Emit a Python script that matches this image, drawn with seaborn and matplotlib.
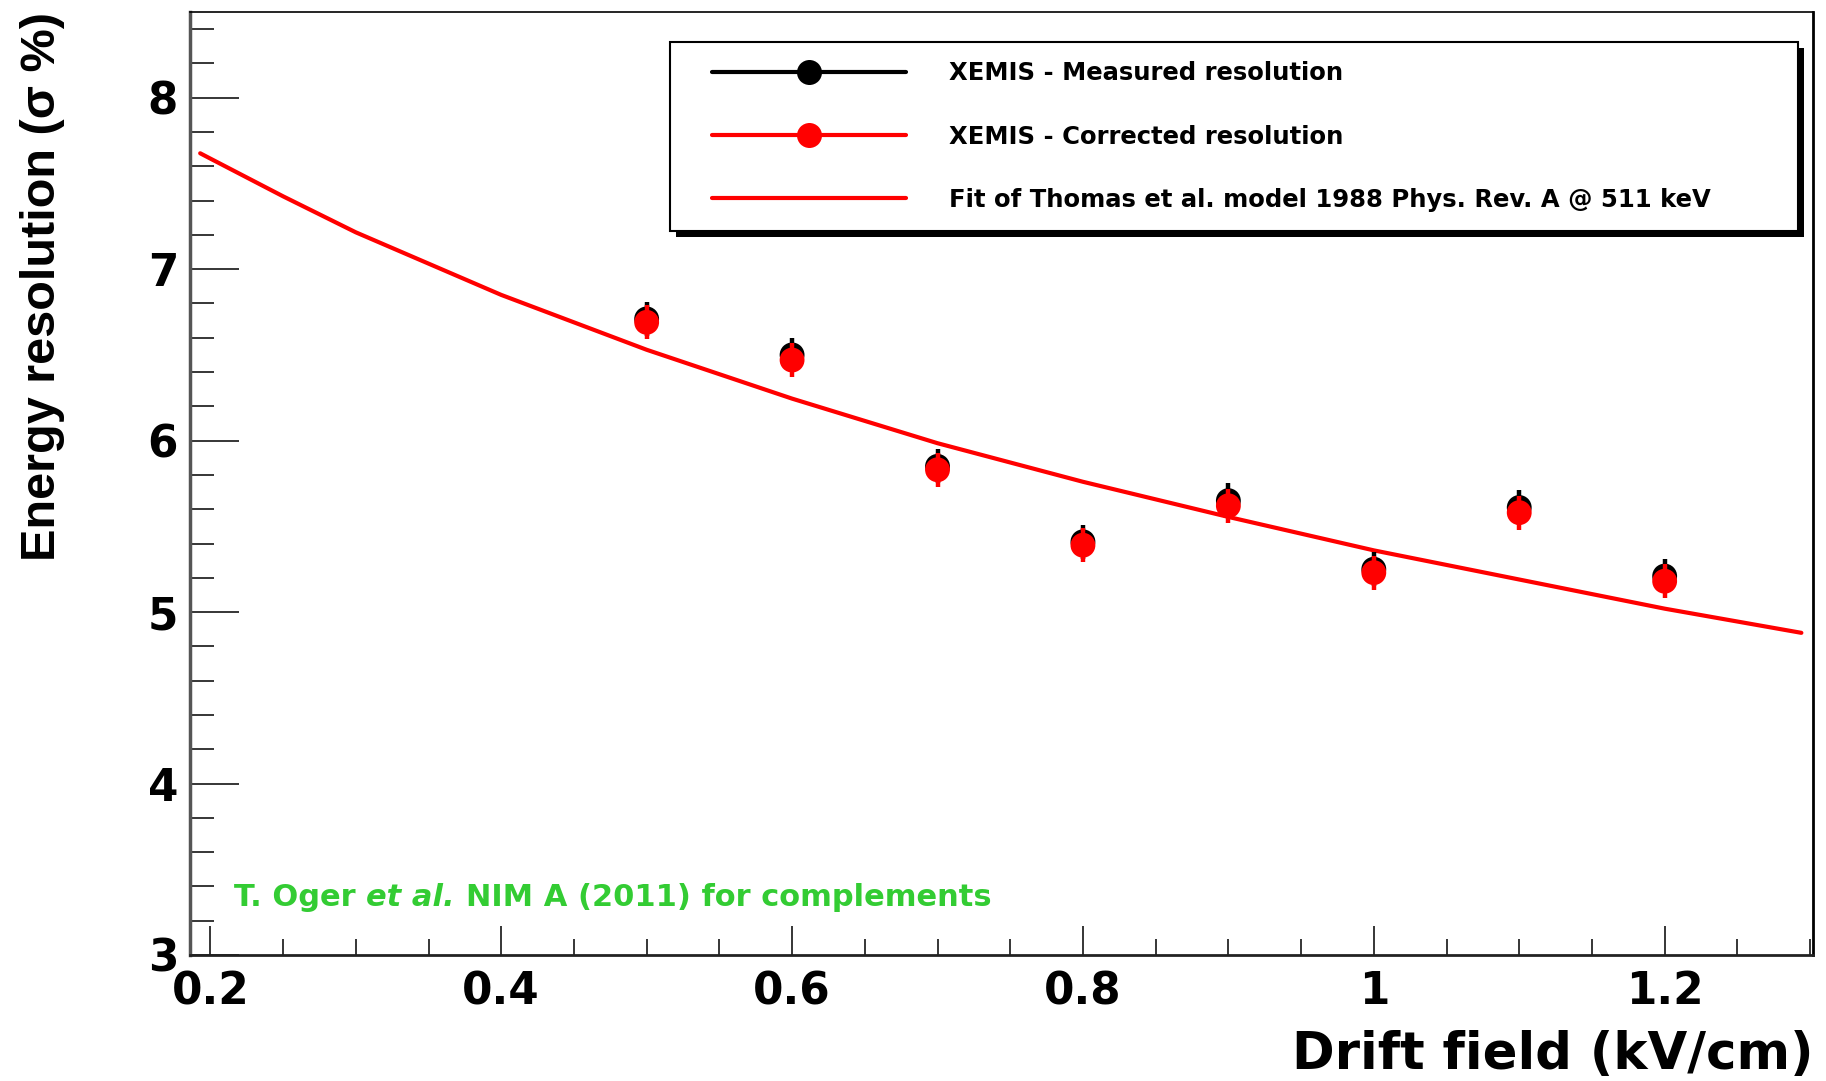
import matplotlib
matplotlib.use("Agg")
import numpy as np
import pandas as pd
import seaborn as sns
import matplotlib.pyplot as plt
from matplotlib.lines import Line2D
from matplotlib.patches import Rectangle
from matplotlib.ticker import FixedLocator, MultipleLocator
from matplotlib.font_manager import FontProperties, fontManager

# ---------------- data ----------------
field = [0.5, 0.6, 0.7, 0.8, 0.9, 1.0, 1.1, 1.2]
measured = [6.71, 6.50, 5.85, 5.41, 5.65, 5.25, 5.61, 5.21]
measured_err = [0.10, 0.10, 0.10, 0.10, 0.10, 0.10, 0.10, 0.10]
corrected = [6.69, 6.47, 5.83, 5.39, 5.62, 5.23, 5.58, 5.18]
corrected_err = [0.10, 0.10, 0.10, 0.10, 0.10, 0.10, 0.10, 0.10]

fit_field = [0.193, 0.2, 0.25, 0.3, 0.4, 0.5, 0.6, 0.7, 0.8, 0.9, 1.0, 1.1, 1.2, 1.294]
fit_res = [7.676, 7.645, 7.425, 7.215, 6.85, 6.53, 6.245, 5.985, 5.76, 5.555, 5.36, 5.19, 5.02, 4.879]

xtick_values = [0.2, 0.4, 0.6, 0.8, 1.0, 1.2]
xtick_labels = ["0.2", "0.4", "0.6", "0.8", "1", "1.2"]
ytick_values = [3, 4, 5, 6, 7, 8]
ytick_labels = ["3", "4", "5", "6", "7", "8"]

legend_labels = ["XEMIS - Measured resolution",
                 "XEMIS - Corrected resolution",
                 "Fit of Thomas et al. model 1988 Phys. Rev. A @ 511 keV"]
x_title = "Drift field (kV/cm)"
y_title = "Energy resolution (\u03c3 %)"
note_parts = ["T. Oger", "et al.", "NIM A (2011) for complements"]

# ---------------- style ----------------
sns.set_theme(style="white")
plt.rcParams['font.family'] = ['DejaVu Sans']
for k in ['text.color', 'axes.labelcolor', 'xtick.color', 'ytick.color', 'axes.edgecolor']:
    plt.rcParams[k] = 'black'

W, H = 1826, 1081
fig = plt.figure(figsize=(W / 100, H / 100), dpi=100)
fig.patch.set_facecolor('white')
ax_l, ax_r, ax_t, ax_b = 190, 1813, 12, 955
ax = fig.add_axes([ax_l / W, 1 - ax_b / H, (ax_r - ax_l) / W, (ax_b - ax_t) / H])
ax.set_facecolor('white')

# fit curve
df_fit = pd.DataFrame({"field": fit_field, "res": fit_res})
sns.lineplot(data=df_fit, x="field", y="res", color="red", linewidth=3,
             ax=ax, zorder=2, legend=False)

# measured
ax.errorbar(field, measured, yerr=measured_err, fmt='none', ecolor='black',
            elinewidth=3.2, capsize=0, zorder=3)
sns.scatterplot(x=field, y=measured, color='black', s=320, marker='o',
                edgecolor='none', linewidth=0, ax=ax, zorder=4, legend=False)
# corrected
ax.errorbar(field, corrected, yerr=corrected_err, fmt='none', ecolor='red',
            elinewidth=3.2, capsize=0, zorder=5)
sns.scatterplot(x=field, y=corrected, color='red', s=320, marker='o',
                edgecolor='none', linewidth=0, ax=ax, zorder=6, legend=False)

ax.set_xlim(0.186, 1.302)
ax.set_ylim(3, 8.5)
ax.set_xlabel("")
ax.set_ylabel("")

ax.xaxis.set_major_locator(FixedLocator(xtick_values))
ax.set_xticklabels(xtick_labels)
ax.xaxis.set_minor_locator(MultipleLocator(0.05))
ax.yaxis.set_major_locator(FixedLocator(ytick_values))
ax.set_yticklabels(ytick_labels)
ax.yaxis.set_minor_locator(MultipleLocator(0.2))

ax.tick_params(axis='x', which='major', direction='in', length=21, width=1.1,
               pad=11, labelsize=31.5, bottom=True, top=False)
ax.tick_params(axis='x', which='minor', direction='in', length=11.5, width=1.1,
               bottom=True, top=False)
ax.tick_params(axis='y', which='major', direction='in', length=35, width=1.1,
               pad=8.5, labelsize=31.5, left=True, right=False)
ax.tick_params(axis='y', which='minor', direction='in', length=17.5, width=1.1,
               left=True, right=False)
for lab in ax.get_xticklabels() + ax.get_yticklabels():
    lab.set_fontweight('bold')

ax.spines['left'].set(color='#555555', linewidth=2.5)
ax.spines['bottom'].set(color='#222222', linewidth=2)
ax.spines['top'].set(color='black', linewidth=1.2)
ax.spines['right'].set(color='black', linewidth=2)

# ---------------- legend ----------------
def axx(px):
    return (px - ax_l) / (ax_r - ax_l)

def axy(py):
    return (ax_b - py) / (ax_b - ax_t)

box_l, box_r, box_t, box_b = 670, 1798, 42, 231
shadow = Rectangle((axx(box_l) + 6 / (ax_r - ax_l), axy(box_b) - 6 / (ax_b - ax_t)),
                   axx(box_r) - axx(box_l), axy(box_t) - axy(box_b),
                   transform=ax.transAxes, facecolor='black', edgecolor='black',
                   lw=0, zorder=7, clip_on=False)
frame = Rectangle((axx(box_l), axy(box_b)), axx(box_r) - axx(box_l), axy(box_t) - axy(box_b),
                  transform=ax.transAxes, facecolor='white', edgecolor='black',
                  lw=1.5, zorder=7.1, clip_on=False)
ax.add_patch(shadow)
ax.add_patch(frame)

handles = [Line2D([], [], color='black', lw=3, marker='o', markersize=18, markeredgewidth=0),
           Line2D([], [], color='red', lw=3, marker='o', markersize=18, markeredgewidth=0),
           Line2D([], [], color='red', lw=3)]
leg = ax.legend(handles, legend_labels, loc='center left',
                bbox_to_anchor=(axx(712), axy(136.5)), borderpad=0, borderaxespad=0,
                frameon=False, prop=FontProperties(family='DejaVu Sans', weight='bold', size=17.5),
                handlelength=8.0, handletextpad=1.75, labelspacing=1.62, numpoints=1)
leg.set_zorder(8)

# ---------------- titles ----------------
names = {f.name for f in fontManager.ttflist}
if 'Liberation Sans Narrow' in names:
    yfam, ysize = ['Liberation Sans Narrow', 'DejaVu Sans'], 43
else:
    yfam, ysize = ['Liberation Sans', 'DejaVu Sans'], 35
fig.text(43 / W, 1 - 12 / H, y_title, rotation=90, ha='center', va='top',
         fontsize=ysize, fontweight='bold', family=yfam, color='black')
fig.text(ax_r / W, 1 - 1069 / H, x_title, ha='right', va='baseline',
         fontsize=37, fontweight='bold', color='black')

# ---------------- note ----------------
green = '#33cc33'
note_size = 22
t1 = ax.text(axx(234), axy(906), note_parts[0], transform=ax.transAxes, ha='left',
             va='baseline', fontsize=note_size, fontweight='bold', color=green, zorder=9)
t2 = ax.annotate(note_parts[1], xy=(1, 0), xycoords=t1, xytext=(7.7, 0),
                 textcoords='offset points', ha='left', va='bottom', fontsize=note_size,
                 fontweight='bold', fontstyle='italic', color=green, zorder=9)
t3 = ax.annotate(note_parts[2], xy=(1, 0), xycoords=t2, xytext=(7.7, 0),
                 textcoords='offset points', ha='left', va='bottom', fontsize=note_size,
                 fontweight='bold', color=green, zorder=9)

fig.savefig("out.png", dpi=100, facecolor='white')
